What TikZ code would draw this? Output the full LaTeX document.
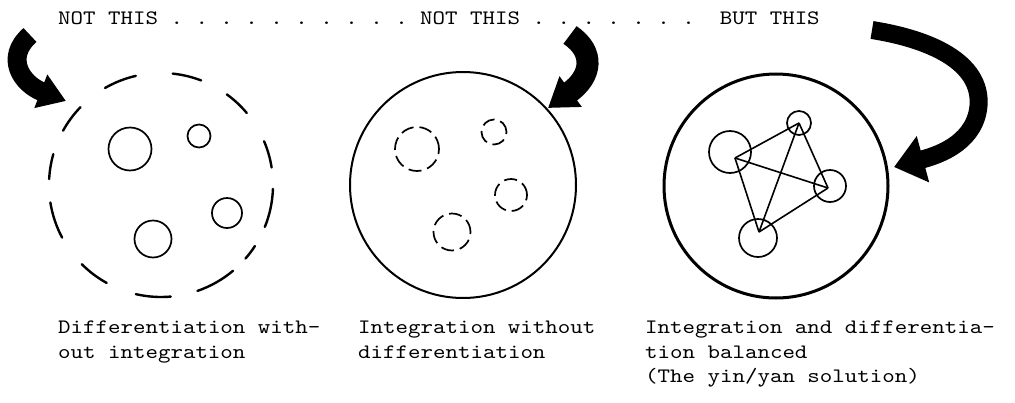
\documentclass[tikz,border=0pt]{standalone}
\usepackage{fontspec}
\newfontfamily\typew{lmmono10-regular.otf}[FakeStretch=1.16]
\usetikzlibrary{arrows.meta}
\begin{document}
\frenchspacing
\begin{tikzpicture}[x=1pt,y=-1pt,
  txt/.style={font=\typew\fontsize{20.5}{24.5}\selectfont, inner sep=0pt, align=left},
  dashring/.style={line width=2.4pt, line cap=round},
  solidsmall/.style={circle, draw, line width=1.7pt, inner sep=0pt, minimum size=#1},
  dashsmall/.style={circle, draw, line width=1.7pt, inner sep=0pt, minimum size=#1, dash pattern=on 13pt off 6pt},
  bigring/.style={circle, draw, inner sep=0pt, minimum size=#1},
  edge/.style={line width=1.6pt},
  fatarrow/.style={line width=#1, draw=black}
]
\useasboundingbox (0,0) rectangle (1015,402);

% top line
\node[txt, anchor=base west] (top) at (58,24) {NOT THIS . . . . . . . . . . NOT THIS . . . . . . .\ \ BUT THIS};

% ---------- left: differentiation without integration ----------
\coordinate (lc) at (161,185);
\foreach \a/\b in {2/22,33/41,50/71,85/103,119/135,152/171,183/196,209/224,240/257,276/291,306/320,337/351}
  \draw[dashring] (lc) ++(\a:112) arc[start angle=\a, end angle=\b, radius=112];
\node[solidsmall=43pt] (l1) at (130,149) {};
\node[solidsmall=23pt] (l2) at (199,136) {};
\node[solidsmall=30pt] (l3) at (227,213) {};
\node[solidsmall=37pt] (l4) at (153,239) {};

% ---------- middle: integration without differentiation ----------
\node[bigring=226pt, line width=2pt] (mid) at (463,185) {};
\node[dashsmall=44pt] (m1) at (417,149) {};
\node[dashsmall=25pt] (m2) at (494,132) {};
\node[dashsmall=32pt] (m3) at (511,195) {};
\node[dashsmall=37pt] (m4) at (452,232) {};

% ---------- right: balanced ----------
\node[bigring=224pt, line width=3pt] (rgt) at (776,186) {};
\node[solidsmall=42pt] (r1) at (730,152) {};
\node[solidsmall=24pt] (r2) at (799,123) {};
\node[solidsmall=32pt] (r3) at (830,186) {};
\node[solidsmall=38pt] (r4) at (758,238) {};
\coordinate (A) at (735,158);
\coordinate (B) at (799,123);
\coordinate (C) at (828,188);
\coordinate (D) at (759,232);
\draw[edge] (A) -- (B);
\draw[edge] (A) -- (C);
\draw[edge] (A) -- (D);
\draw[edge] (B) -- (C);
\draw[edge] (B) -- (D);
\draw[edge] (C) -- (D);

% ---------- fat arrows ----------
\coordinate (a1s) at (30,35);
\coordinate (a1e) at (66,101);
\draw[fatarrow=19pt, -{Triangle[length=27pt,width=34pt]}]
  (a1s) .. controls (4,58) and (22,84) .. (a1e);

\coordinate (a2s) at (570,35);
\coordinate (a2e) at (548,108);
\draw[fatarrow=22pt, -{Triangle[length=28pt,width=36pt]}]
  (a2s) .. controls (595,52) and (592,76) .. (a2e);

\coordinate (a3s) at (872,30);
\coordinate (a3m) at (978,110);
\coordinate (a3e) at (894,167);
\draw[fatarrow=18pt, -{Triangle[length=30pt,width=46pt]}]
  (a3s) .. controls (935,40) and (985,65) .. (a3m)
  .. controls (972,145) and (935,156) .. (a3e);

% ---------- captions ----------
\node[txt, anchor=north west] (c1) at (58,321) {Differentiation with-\\out integration};
\node[txt, anchor=north west] (c2) at (358,321) {Integration without\\differentiation};
\node[txt, anchor=north west] (c3) at (645,321) {Integration and differentia-\\tion balanced\\(The yin/yan solution)};
\end{tikzpicture}
\end{document}
